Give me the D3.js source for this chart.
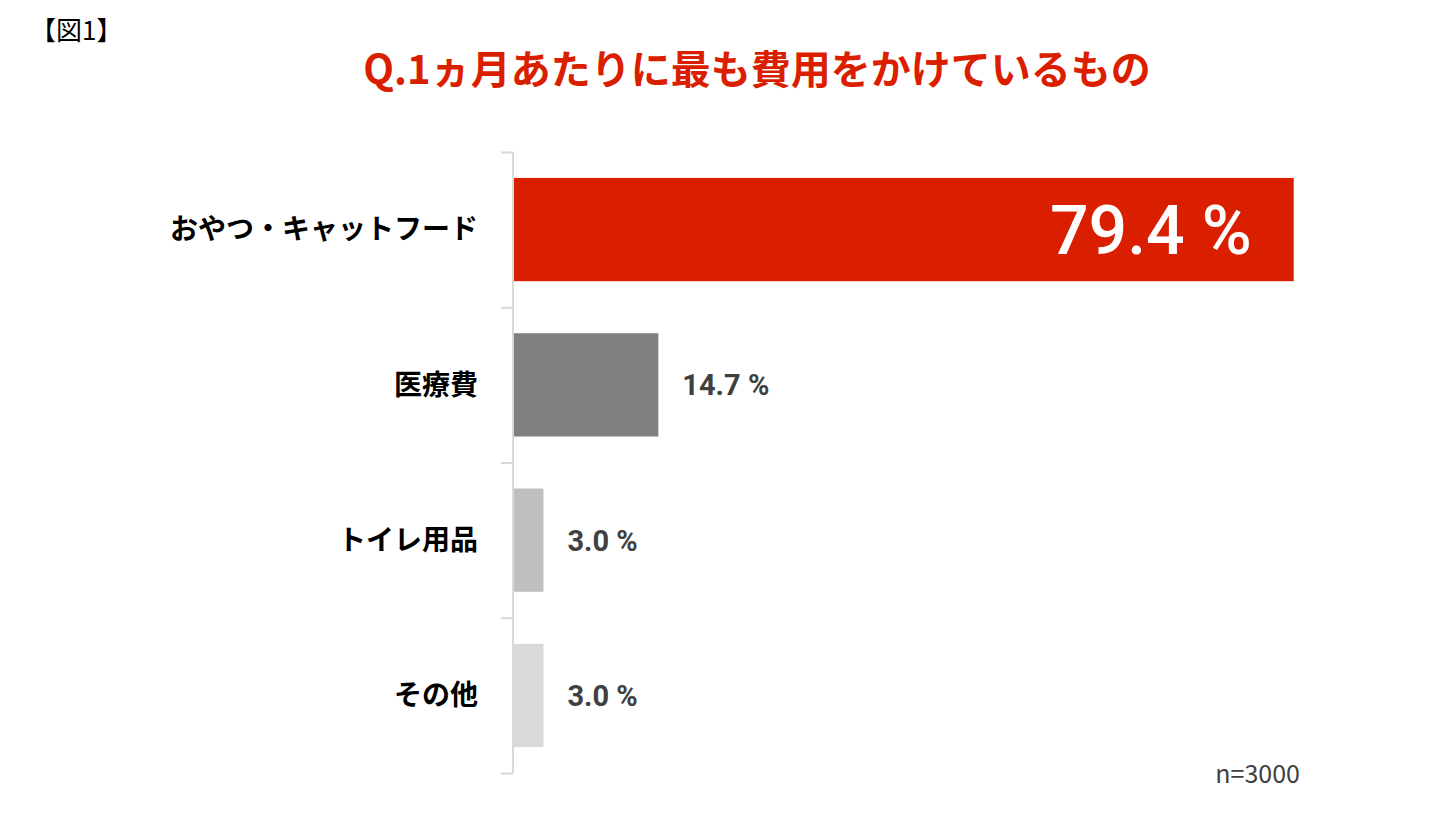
<!DOCTYPE html>
<html><head><meta charset="utf-8">
<script src="https://cdn.jsdelivr.net/npm/d3@7"></script>
<style>body{margin:0;background:#fff}svg{display:block}</style>
</head><body>
<svg id="c" width="1440" height="817"></svg>
<script>
const categories=["おやつ・キャットフード","医療費","トイレ用品","その他"];
const values=[79.4,14.7,3.0,3.0];
const colors=["#DA1F00","#7F7F7F","#BFBFBF","#D9D9D9"];
const svg=d3.select("#c");
const F="'Noto Sans CJK JP','Noto Sans',sans-serif";
const x=d3.scaleLinear().domain([0,100]).range([514,1496]);
const y=d3.scaleBand().domain(categories).range([152,773]).paddingInner(0.335).paddingOuter(0.167);
svg.append("text").attr("x",30).attr("y",40).attr("font-family",F).attr("font-size",26).text("【図1】");
svg.append("text").attr("x",757).attr("y",84).attr("text-anchor","middle").attr("font-family",F).attr("font-weight","bold").attr("font-size",40).attr("fill","#DA1F00").text("Q.1ヵ月あたりに最も費用をかけているもの");
svg.selectAll("rect.b").data(values).enter().append("rect").attr("x",x(0)).attr("y",(d,i)=>y(categories[i])).attr("width",d=>x(d)-x(0)).attr("height",y.bandwidth()).attr("fill",(d,i)=>colors[i]);
const ax=d3.axisLeft(d3.scaleLinear().domain([0,4]).range([152,773])).ticks(4).tickFormat("").tickSize(12).tickSizeOuter(12);
const g=svg.append("g").attr("transform","translate(513,0)").call(ax);
g.selectAll("path,line").attr("stroke","#D9D9D9").attr("stroke-width",2);
g.select("path").attr("d","M0,152V773");
svg.selectAll("text.c").data(categories).enter().append("text").attr("x",478).attr("y",d=>y(d)+y.bandwidth()/2).attr("dy","0.35em").attr("text-anchor","end").attr("font-family",F).attr("font-weight","bold").attr("font-size",28).text(d=>d);
svg.selectAll("text.v").data(values).enter().append("text")
 .attr("x",(d,i)=>i==0?x(d)-42:x(d)+24)
 .attr("y",(d,i)=>y(categories[i])+y.bandwidth()/2).attr("dy","0.36em")
 .attr("text-anchor",(d,i)=>i==0?"end":"start")
 .attr("font-family","Roboto,'Liberation Sans',sans-serif").attr("font-weight",(d,i)=>i==0?"500":"bold")
 .attr("font-size",(d,i)=>i==0?68:29).attr("fill",(d,i)=>i==0?"#fff":"#404040")
 .text(d=>d.toFixed(1)+" %");
svg.append("text").attr("x",1300).attr("y",783).attr("text-anchor","end").attr("font-family",F).attr("font-size",25).attr("fill","#404040").text("n=3000");
</script>
</body></html>
